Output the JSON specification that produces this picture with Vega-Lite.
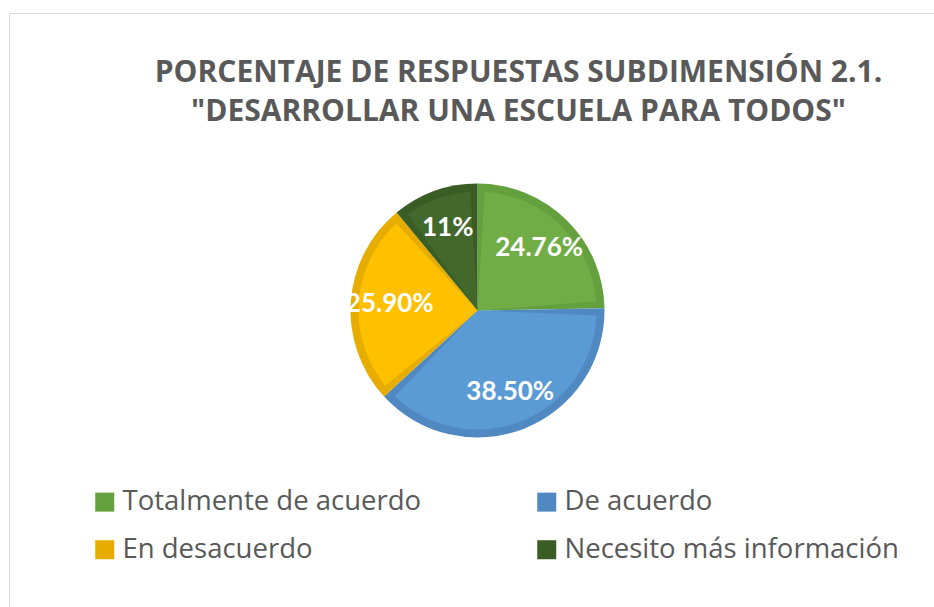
{
  "$schema": "https://vega.github.io/schema/vega-lite/v6.json",
  "autosize": {"type": "none"},
  "width": 937,
  "height": 595,
  "padding": {"left": 9, "top": 13, "right": 0, "bottom": 0},
  "background": "white",
  "view": {"stroke": "#D9D9D9", "strokeWidth": 1},
  "config": {"view": {"stroke": "#D9D9D9", "strokeWidth": 1}},
  "title": {
    "text": ["PORCENTAJE DE RESPUESTAS SUBDIMENSIÓN 2.1.", "\"DESARROLLAR UNA ESCUELA PARA TODOS\""],
    "anchor": "middle",
    "frame": "group",
    "font": "Open Sans",
    "fontSize": 30,
    "fontWeight": "bold",
    "color": "#595959",
    "lineHeight": 39,
    "baseline": "top",
    "offset": -114,
    "dx": 41
  },
  "data": {
    "values": [
      {"cat": "Totalmente de acuerdo", "value": 24.76, "label": "24.76%", "o": 1},
      {"cat": "De acuerdo", "value": 38.5, "label": "38.50%", "o": 2},
      {"cat": "En desacuerdo", "value": 25.9, "label": "25.90%", "o": 3},
      {"cat": "Necesito más información", "value": 11, "label": "11%", "o": 4}
    ]
  },
  "layer": [
    {
      "mark": {"type": "arc", "outerRadius": 127},
      "encoding": {
        "theta": {"field": "value", "type": "quantitative", "stack": true},
        "order": {"field": "o", "type": "quantitative"},
        "fill": {
          "field": "cat",
          "type": "nominal",
          "scale": {
            "domain": ["Totalmente de acuerdo", "De acuerdo", "En desacuerdo", "Necesito más información"],
            "range": ["#64A03D", "#5089C2", "#E6AD00", "#3A5C25"]
          },
          "legend": {
            "title": null,
            "orient": "none",
            "legendX": 82,
            "legendY": 475,
            "direction": "horizontal",
            "columns": 2,
            "symbolType": "square",
            "symbolSize": 361,
            "symbolStrokeWidth": 0,
            "labelFont": "Open Sans",
            "labelFontSize": 27.5,
            "labelColor": "#595959",
            "labelOffset": 4,
            "labelLimit": 600,
            "rowPadding": 19,
            "columnPadding": 111
          }
        }
      }
    },
    {
      "mark": {"type": "arc", "outerRadius": 119, "padAngle": 0.12},
      "encoding": {
        "theta": {"field": "value", "type": "quantitative", "stack": true},
        "order": {"field": "o", "type": "quantitative"},
        "fill": {
          "field": "cat",
          "type": "nominal",
          "scale": {
            "domain": ["Totalmente de acuerdo", "De acuerdo", "En desacuerdo", "Necesito más información"],
            "range": ["#70AD47", "#5B9BD5", "#FFC000", "#43682B"]
          },
          "legend": null
        }
      }
    },
    {
      "mark": {"type": "text", "radius": 88, "font": "Lato", "fontSize": 26, "fontWeight": "bold", "fill": "white"},
      "encoding": {
        "theta": {"field": "value", "type": "quantitative", "stack": true},
        "order": {"field": "o", "type": "quantitative"},
        "text": {"field": "label", "type": "nominal"}
      }
    }
  ],
  "resolve": {"scale": {"fill": "independent"}}
}
